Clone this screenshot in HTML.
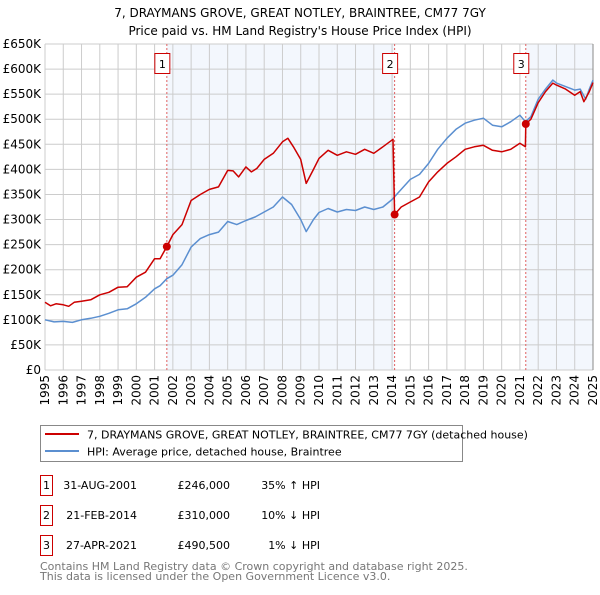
<!DOCTYPE html>
<html><head><meta charset="utf-8"><style>
body{margin:0;background:#fff;font-family:"Liberation Sans","DejaVu Sans",sans-serif;}
svg text{font-family:"DejaVu Sans","Liberation Sans",sans-serif;}
</style></head><body>
<svg id="chart" width="600" height="590" xmlns="http://www.w3.org/2000/svg">
<text x="300" y="17" text-anchor="middle" font-size="12">7, DRAYMANS GROVE, GREAT NOTLEY, BRAINTREE, CM77 7GY</text>
<text x="300" y="35" text-anchor="middle" font-size="12">Price paid vs. HM Land Registry's House Price Index (HPI)</text>
<g id="plot"></g>
<g>
<rect x="40.5" y="425.5" width="422" height="36" fill="#fff" stroke="#888"/>
<line x1="45" y1="434" x2="79" y2="434" stroke="#cc0000" stroke-width="2"/>
<text x="87" y="438.5" font-size="11">7, DRAYMANS GROVE, GREAT NOTLEY, BRAINTREE, CM77 7GY (detached house)</text>
<line x1="45" y1="451" x2="79" y2="451" stroke="#5b8fd0" stroke-width="2"/>
<text x="87" y="455.5" font-size="11">HPI: Average price, detached house, Braintree</text>
</g>
<g font-size="11">
<rect x="40.5" y="475.5" width="12" height="20" fill="none" stroke="#cc0000"/>
<text x="46.5" y="489" text-anchor="middle">1</text>
<text x="137" y="489" text-anchor="end">31-AUG-2001</text>
<text x="230" y="489" text-anchor="end">£246,000</text>
<text x="320" y="489" text-anchor="end">35% ↑ HPI</text>
<rect x="40.5" y="505.5" width="12" height="20" fill="none" stroke="#cc0000"/>
<text x="46.5" y="519" text-anchor="middle">2</text>
<text x="137" y="519" text-anchor="end">21-FEB-2014</text>
<text x="230" y="519" text-anchor="end">£310,000</text>
<text x="320" y="519" text-anchor="end">10% ↓ HPI</text>
<rect x="40.5" y="535.5" width="12" height="20" fill="none" stroke="#cc0000"/>
<text x="46.5" y="549" text-anchor="middle">3</text>
<text x="137" y="549" text-anchor="end">27-APR-2021</text>
<text x="230" y="549" text-anchor="end">£490,500</text>
<text x="320" y="549" text-anchor="end">1% ↓ HPI</text>
</g>
<text x="40" y="570" font-size="11" fill="#777">Contains HM Land Registry data © Crown copyright and database right 2025.</text>
<text x="40" y="580" font-size="11" fill="#777">This data is licensed under the Open Government Licence v3.0.</text>
</svg>
<script>
const hpiYears=[1995,1995.5,1996,1996.5,1997,1997.5,1998,1998.5,1999,1999.5,2000,2000.5,2001,2001.3,2001.67,2002,2002.5,2003,2003.5,2004,2004.5,2005,2005.5,2006,2006.5,2007,2007.5,2008,2008.5,2009,2009.3,2009.7,2010,2010.5,2011,2011.5,2012,2012.5,2013,2013.5,2014,2014.5,2015,2015.5,2016,2016.5,2017,2017.5,2018,2018.5,2019,2019.5,2020,2020.5,2021,2021.3,2021.6,2022,2022.4,2022.8,2023,2023.5,2024,2024.3,2024.6,2024.8,2025];
const hpiValues=[100,96,97,95,100,103,107,113,120,122,132,145,162,168,182,189,210,245,262,270,275,296,290,298,305,315,325,345,330,300,276,300,314,322,315,320,318,325,320,325,340,360,380,390,412,440,462,480,492,498,502,488,485,495,508,495,505,540,560,578,572,565,558,560,540,560,578];
const propYears=[1995,1995.3,1995.6,1996,1996.3,1996.6,1997,1997.5,1998,1998.5,1999,1999.5,2000,2000.5,2001,2001.3,2001.67,2002,2002.5,2003,2003.5,2004,2004.5,2005,2005.3,2005.6,2006,2006.3,2006.6,2007,2007.5,2008,2008.3,2008.6,2009,2009.3,2009.7,2010,2010.5,2011,2011.5,2012,2012.5,2013,2013.5,2014.05,2014.14,2014.5,2015,2015.5,2016,2016.5,2017,2017.5,2018,2018.5,2019,2019.5,2020,2020.5,2021,2021.3,2021.32,2021.6,2022,2022.4,2022.8,2023,2023.5,2024,2024.3,2024.5,2024.8,2025];
const propValues=[135,128,132,130,127,135,137,140,150,155,165,166,185,195,222,222,246,270,290,338,350,360,365,398,397,385,405,395,402,420,432,455,462,445,420,372,400,422,438,428,435,430,440,432,445,460,310,325,335,345,375,395,412,425,440,445,448,438,435,440,452,445,490.5,500,533,555,572,568,560,548,555,535,555,573];
const saleYears=[2001.67,2014.14,2021.32];
const salePrices=[246,310,490.5];
const saleLabels=["1","2","3"];
const yTicks=[0,50,100,150,200,250,300,350,400,450,500,550,600,650];
const yTickLabels=["£0","£50K","£100K","£150K","£200K","£250K","£300K","£350K","£400K","£450K","£500K","£550K","£600K","£650K"];
const xStart=1995,xEnd=2025;

const NS="http://www.w3.org/2000/svg";
const L=45,R=593,T=44,B=370;
const xs=y=>L+(y-xStart)/(xEnd-xStart)*(R-L);
const ys=v=>B-v/650*(B-T);
const g=document.getElementById('plot');
function mk(tag,attrs,parent){const e=document.createElementNS(NS,tag);for(const k in attrs)e.setAttribute(k,attrs[k]);(parent||g).appendChild(e);return e;}

// shading
const sh1=mk('rect',{x:xs(saleYears[0]),y:T,width:xs(saleYears[1])-xs(saleYears[0]),height:B-T,fill:'#eef3fc',opacity:0.7});


const sh2=mk('rect',{x:xs(saleYears[2]),y:T,width:R-xs(saleYears[2]),height:B-T,fill:'#eef3fc',opacity:0.7});



// grid
for(let i=0;i<yTicks.length;i++){
  const y=ys(yTicks[i]);
  const gl=mk('line',{x1:L,x2:R,y1:y,y2:y,stroke:'#cccccc','stroke-width':1});
  
  
  const t=mk('text',{x:41,y:y+4,'text-anchor':'end','font-size':12});
  t.textContent=yTickLabels[i];
  
  
}
for(let yr=xStart;yr<=xEnd;yr++){
  const x=xs(yr);
  const gl=mk('line',{x1:x,x2:x,y1:T,y2:B,stroke:'#cccccc','stroke-width':1});
  
  
  const t=mk('text',{x:0,y:0,'text-anchor':'end','font-size':12,transform:`translate(${x+4},${B+5}) rotate(-90)`});
  t.textContent=String(yr);
  
  
}
const ax=mk('line',{x1:R,x2:R,y1:T,y2:B,stroke:'#888','stroke-width':1});



// sale vlines
for(let i=0;i<saleYears.length;i++){
  const x=xs(saleYears[i]);
  const vl=mk('line',{x1:x,x2:x,y1:T,y2:B,stroke:'#e06060','stroke-width':1,'stroke-dasharray':'2,2'});
  
  
  const bx=mk('rect',{x:x-12,y:53.5,width:15,height:20,fill:'#fff',stroke:'#cc0000'});
  
  
  const tt=mk('text',{x:x-4.5,y:68,'text-anchor':'middle','font-size':11});
  tt.textContent=saleLabels[i];
  
  
}

function line(xsArr,vals,color,name){
  const d=xsArr.map((yr,i)=>(i?'L':'M')+xs(yr).toFixed(1)+','+ys(vals[i]).toFixed(1)).join(' ');
  const p=mk('path',{d:d,fill:'none',stroke:color,'stroke-width':1.5,'stroke-linejoin':'round'});
  
  
}
line(hpiYears,hpiValues,'#5b8fd0','hpi-line');
line(propYears,propValues,'#cc0000','property-price-line');
for(let i=0;i<saleYears.length;i++){
  const c=mk('circle',{cx:xs(saleYears[i]),cy:ys(salePrices[i]),r:4,fill:'#cc0000'});
  
  
}
</script>
</body></html>
